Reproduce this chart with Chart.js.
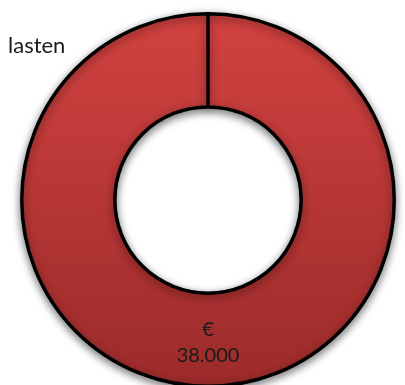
<!DOCTYPE html>
<html>
<head>
<meta charset="utf-8">
<script src="https://cdn.jsdelivr.net/npm/chart.js@4"></script>
<style>
  html, body { margin: 0; padding: 0; background: #fff; overflow: hidden; }
  #wrap { position: absolute; left: 0; top: 0; width: 405px; height: 400px; }
</style>
</head>
<body>
<div id="wrap"><canvas id="kosten"></canvas></div>
<script>
const categories = ["lasten"]
const amounts = [38000]

const red_top = "rgb(210, 66, 64)"
const red_bottom = "rgb(154, 43, 42)"
const text_color = "#1a1a1a"

function euro(value) {
    return value.toLocaleString("nl-NL")
}

// soft shadow like the office chart
const shadow_plugin = {
    id: 'ringShadow',
    beforeDatasetsDraw(chart) {
        const ctx = chart.ctx
        ctx.save()
        ctx.shadowColor = "rgba(0, 0, 0, 0.5)"
        ctx.shadowBlur = 8
        ctx.shadowOffsetY = 3
    },
    afterDatasetsDraw(chart) {
        chart.ctx.restore()
    }
}

// category name and value labels
const label_plugin = {
    id: 'sliceLabels',
    afterDraw(chart) {
        const ctx = chart.ctx
        const meta = chart.getDatasetMeta(0)
        ctx.save()
        ctx.fillStyle = text_color
        ctx.font = "22px Lato, sans-serif"
        ctx.textAlign = "left"
        ctx.textBaseline = "middle"
        ctx.fillText(chart.data.labels[0], 8, 46)

        meta.data.forEach((arc, i) => {
            const p = arc.tooltipPosition()
            ctx.textAlign = "center"
            ctx.font = "20px Lato, sans-serif"
            ctx.fillText("€", p.x, p.y - 10)
            ctx.fillText(euro(chart.data.datasets[0].data[i]), p.x, p.y + 16)
        })
        ctx.restore()
    }
}

new Chart(document.getElementById('kosten'), {
    type: "doughnut",
    data: {
        labels: categories,
        datasets: [{
            data: amounts,
            backgroundColor: (context) => {
                const area = context.chart.chartArea
                if (!area) return red_top
                const g = context.chart.ctx.createLinearGradient(0, area.top, 0, area.bottom)
                g.addColorStop(0, red_top)
                g.addColorStop(1, red_bottom)
                return g
            },
            borderColor: "#000",
            borderWidth: 3.5,
            hoverOffset: 0,
        }]
    },
    options: {
        responsive: true,
        maintainAspectRatio: false,
        animation: false,
        cutout: "50%",
        layout: {
            padding: { left: 20, right: 9, top: 11, bottom: 11 }
        },
        plugins: {
            legend: { display: false },
            tooltip: { enabled: false },
        },
    },
    plugins: [shadow_plugin, label_plugin]
});
</script>
</body>
</html>
